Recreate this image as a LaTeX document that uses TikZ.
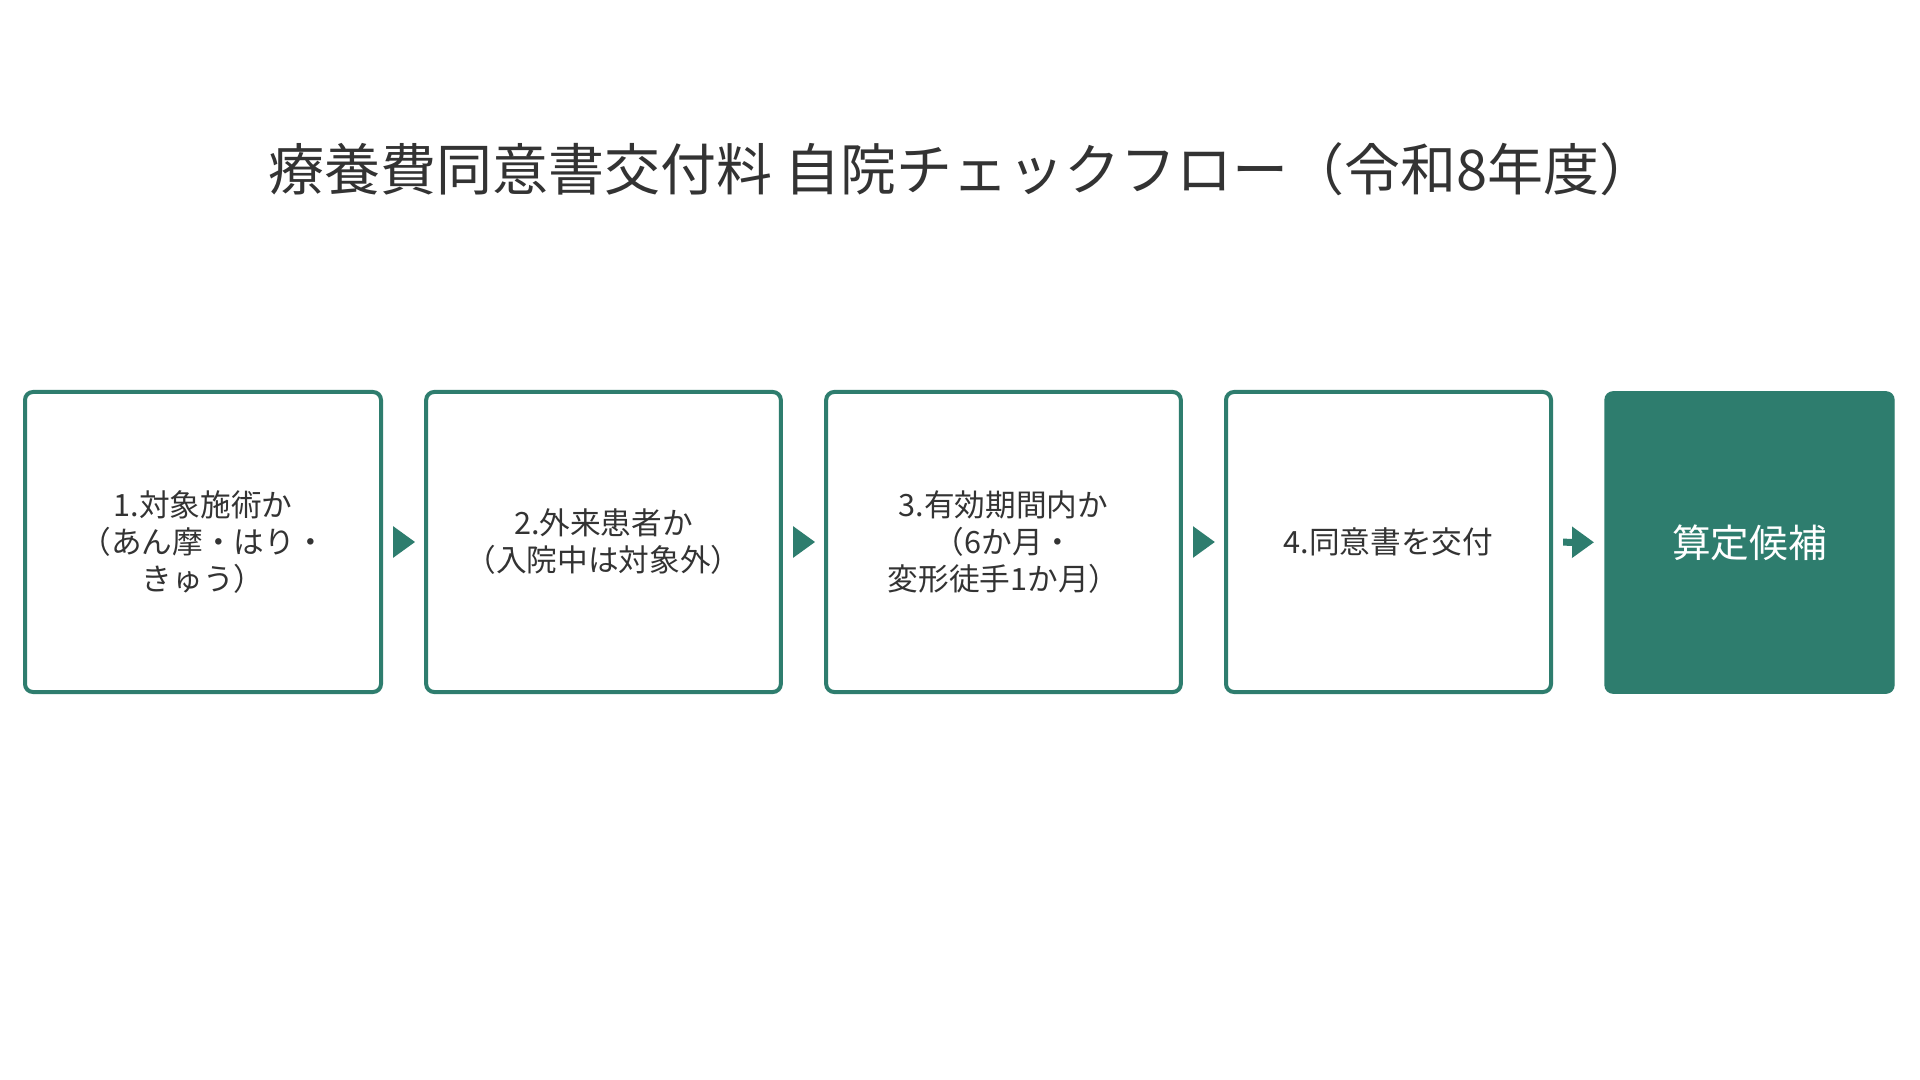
\documentclass[tikz,border=0pt]{standalone}
\usepackage{fontspec}
\setmainfont{Noto Sans CJK JP}
\usetikzlibrary{arrows.meta}
\definecolor{flowgreen}{HTML}{2E7D6E}
\definecolor{inkgray}{HTML}{333333}
\begin{document}
\begin{tikzpicture}[x=0.75pt,y=-0.75pt,
  titletext/.style={text=inkgray,font=\fontsize{42pt}{50pt}\selectfont,inner sep=0pt},
  stepbox/.style={draw=flowgreen,line width=3pt,rounded corners=6pt,fill=white,
    minimum height=225pt,outer sep=0pt,text=inkgray,align=center,
    font=\fontsize{23pt}{27.75pt}\selectfont},
  resultbox/.style={draw=flowgreen,line width=1pt,fill=flowgreen,rounded corners=6pt,
    minimum height=226pt,outer sep=0pt,text=white,align=center,
    font=\fontsize{29pt}{34pt}\selectfont},
  flowarrow/.style={draw=flowgreen,line width=5.25pt,
    -{Triangle[length=16.5pt,width=22.5pt]},shorten <=9pt,shorten >=8.25pt}]
\useasboundingbox (0,0) rectangle (1920,1080);
\fill[white] (0,0) rectangle (1920,1080);
\node[titletext] (title) at (962,169) {療養費同意書交付料 自院チェックフロー（令和8年度）};
\node[stepbox,minimum width=267pt] (b1) at (203,542) {1.対象施術か\\（あん摩・はり・\\きゅう）};
\node[stepbox,minimum width=266pt] (b2) at (603.5,542) {2.外来患者か\\（入院中は対象外）};
\node[stepbox,minimum width=266pt] (b3) at (1003.5,542) {3.有効期間内か\\（6か月・\\変形徒手1か月）};
\node[stepbox,minimum width=243.75pt] (b4) at (1388.5,542) {4.同意書を交付};
\node[resultbox,minimum width=216.75pt] (b5) at (1749.5,542.5) {算定候補};
\draw[flowarrow] (b1) -- (b2);
\draw[flowarrow] (b2) -- (b3);
\draw[flowarrow] (b3) -- (b4);
\draw[flowarrow] (b4) -- (b5);
\end{tikzpicture}
\end{document}
